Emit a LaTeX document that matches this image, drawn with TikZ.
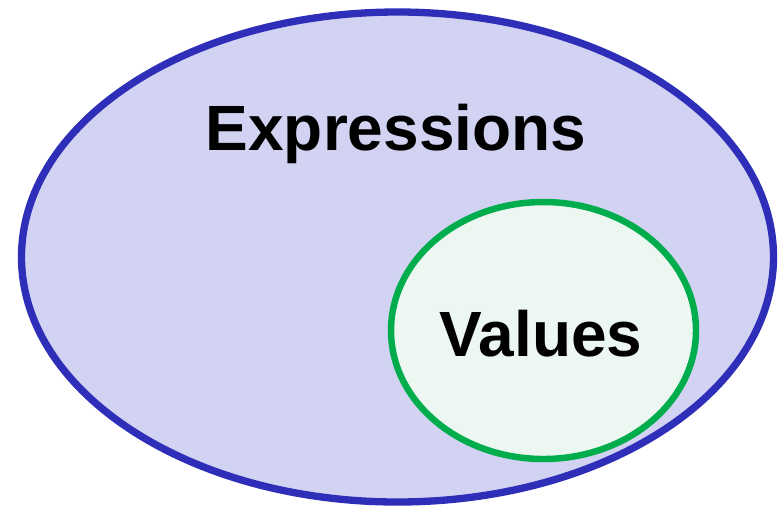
\documentclass[tikz,border=0pt]{standalone}
\usepackage{fontspec}
\setmainfont{Liberation Sans}
\usepackage{xcolor}
\usepackage{tikz}
\definecolor{exprfill}{HTML}{D2D2F3}
\definecolor{exprline}{HTML}{2E2EB8}
\definecolor{valfill}{HTML}{EDF7F1}
\definecolor{valline}{HTML}{00AD4D}
\tikzset{label/.style={font=\fontsize{45.5}{50}\selectfont\bfseries, inner sep=0pt}}

\begin{document}
\begin{tikzpicture}[x=0.025cm, y=-0.025cm]
    \useasboundingbox (0,0) rectangle (782,509);
    \draw[exprline, fill=exprfill, line width=5.2pt] (397.5,257) ellipse [x radius=376, y radius=245];
    \draw[valline, fill=valfill, line width=4.6pt] (543.5,330.5) ellipse [x radius=152.5, y radius=128.5];
    \node[label] (expr) at (396,134) {Expressions};
    \node[label] (val) at (541,334) {Values};
\end{tikzpicture}
\end{document}
